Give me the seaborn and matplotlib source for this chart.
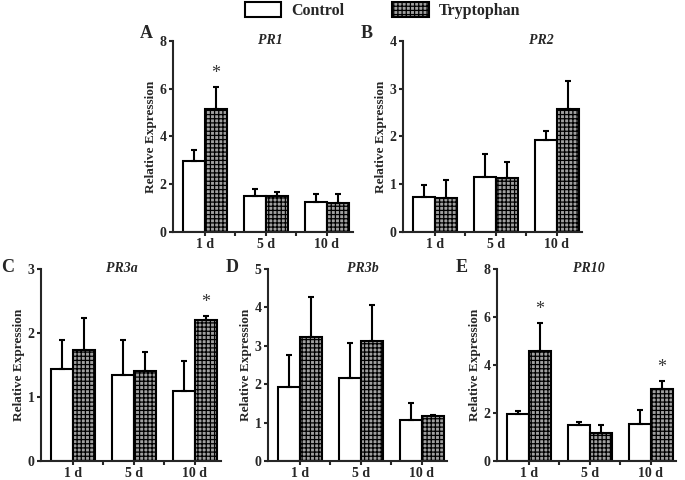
import numpy as np
import pandas as pd
import seaborn as sns
import matplotlib.pyplot as plt
from matplotlib.patches import Patch

# data (mean and upper error = SD)
days = ['1 d', '5 d', '10 d']
groups = ['Control', 'Tryptophan']
genes = ['PR1', 'PR2', 'PR3a', 'PR3b', 'PR10']
letters = ['A', 'B', 'C', 'D', 'E']
ymax = [8, 4, 3, 5, 8]
ystep = [2, 1, 1, 1, 2]

ctrl_mean = {'PR1': [2.96, 1.52, 1.24], 'PR2': [0.74, 1.15, 1.93], 'PR3a': [1.43, 1.34, 1.09],
             'PR3b': [1.92, 2.17, 1.08], 'PR10': [1.95, 1.51, 1.56]}
ctrl_sd = {'PR1': [0.49, 0.29, 0.36], 'PR2': [0.24, 0.48, 0.19], 'PR3a': [0.46, 0.55, 0.47],
           'PR3b': [0.83, 0.90, 0.44], 'PR10': [0.15, 0.13, 0.58]}
trp_mean = {'PR1': [5.16, 1.49, 1.21], 'PR2': [0.72, 1.13, 2.57], 'PR3a': [1.73, 1.40, 2.21],
            'PR3b': [3.24, 3.13, 1.17], 'PR10': [4.59, 1.17, 3.02]}
trp_sd = {'PR1': [0.90, 0.19, 0.38], 'PR2': [0.37, 0.33, 0.59], 'PR3a': [0.50, 0.31, 0.06],
          'PR3b': [1.04, 0.93, 0.02], 'PR10': [1.16, 0.32, 0.32]}
# significant tryptophan bars (index into days)
signif = {'PR1': [0], 'PR2': [], 'PR3a': [2], 'PR3b': [], 'PR10': [0, 2]}

sns.set_theme(style='ticks')
plt.rcParams['font.family'] = ['Liberation Serif', 'DejaVu Serif']
plt.rcParams['font.weight'] = 'bold'
plt.rcParams['axes.labelweight'] = 'bold'
plt.rcParams['hatch.linewidth'] = 0.9

trp_face = '#a0a0a0'
HATCH = '++++'

fig = plt.figure(figsize=(6.85, 4.8), dpi=100)

# axes boxes (left, bottom, width, height) in figure fraction
boxes = [(0.2526, 0.5167, 0.262, 0.398), (0.5883, 0.5167, 0.262, 0.398),
         (0.0599, 0.0396, 0.262, 0.4), (0.3912, 0.0396, 0.262, 0.4),
         (0.7255, 0.0396, 0.262, 0.4)]
title_x = [0.54, 0.77, 0.45, 0.53, 0.51]
letter_xy = [(146, 33), (367, 33), (8, 267), (232, 267), (462, 267)]

for gene, letter, box, ym, ys, tx, lxy in zip(genes, letters, boxes, ymax, ystep, title_x, letter_xy):
    ax = fig.add_axes(box)
    df = pd.DataFrame({
        'day': days * 2,
        'group': ['Control'] * 3 + ['Tryptophan'] * 3,
        'value': ctrl_mean[gene] + trp_mean[gene],
    })
    sns.barplot(data=df, x='day', y='value', hue='group', order=days, hue_order=groups,
                palette={'Control': 'white', 'Tryptophan': trp_face},
                errorbar=None, width=0.72, edgecolor='black', linewidth=1.5,
                legend=False, ax=ax)
    sds = [ctrl_sd[gene], trp_sd[gene]]
    bar_conts = list(ax.containers)
    for k, cont in enumerate(bar_conts):
        xs = [b.get_x() + b.get_width() / 2 for b in cont]
        hs = [b.get_height() for b in cont]
        if k == 1:
            for b in cont:
                b.set_hatch(HATCH)
        ax.errorbar(xs, hs, yerr=[np.zeros(3), sds[k]], fmt='none', ecolor='black',
                    elinewidth=1.5, capsize=2.5, capthick=1.5, zorder=1)
        if k == 1:
            for i in signif[gene]:
                ax.text(xs[i], hs[i] + sds[k][i] + ym * 0.025, '*', ha='center', va='bottom',
                        fontsize=13, color='#333333', fontweight='normal')
    ax.set_xlim(-0.52, 2.42)
    ax.set_ylim(0, ym)
    ax.set_yticks(np.arange(0, ym + 0.01, ys))
    ax.set_xticks([0.5, 1.5], minor=True)
    ax.set_xlabel('')
    ax.set_ylabel('Relative Expression', fontsize=9.5, labelpad=2)
    ax.tick_params(axis='both', which='both', width=1.5, length=3, direction='out',
                   labelsize=10, pad=1.5)
    for s in ['left', 'bottom']:
        ax.spines[s].set_linewidth(1.5)
    sns.despine(ax=ax)
    ax.text(tx, 1.0, gene, transform=ax.transAxes, ha='center', va='center',
            fontsize=10, fontstyle='italic', fontweight='bold')
    fig.text(lxy[0] / 685, 1 - lxy[1] / 480, letter, ha='center', va='center',
             fontsize=13, fontweight='bold')

handles = [Patch(facecolor='white', edgecolor='black', linewidth=1.5, label='Control'),
           Patch(facecolor=trp_face, edgecolor='black', linewidth=1.5, hatch=HATCH, label='Tryptophan')]
fig.legend(handles=handles, loc='center', bbox_to_anchor=(0.558, 0.979), ncol=2, frameon=False,
           fontsize=11.5, handlelength=2.3, handleheight=1.1, columnspacing=3.0, handletextpad=0.6)

fig.savefig('out.png', dpi=100, facecolor='white')
